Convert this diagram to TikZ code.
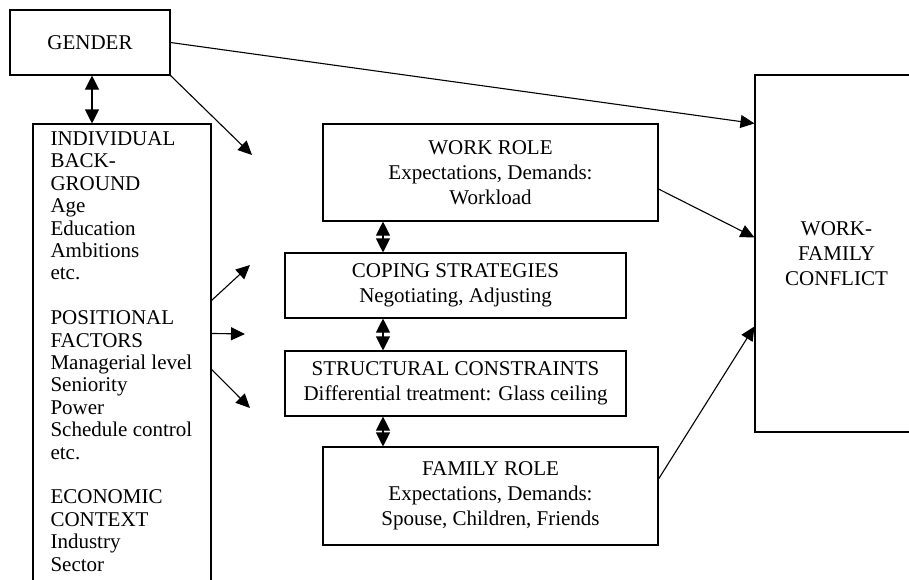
\documentclass[tikz,border=0pt]{standalone}
\usepackage{fontspec}
\setmainfont{Liberation Serif}
\usetikzlibrary{arrows.meta}
\begin{document}
\begin{tikzpicture}[x=1pt,y=-1pt,line width=1.1pt,
  box/.style={draw,rectangle,inner sep=0pt,align=center,font=\fontsize{21}{25}\selectfont},
  leftText/.style={inner sep=0pt,align=left,anchor=north west,font=\fontsize{21}{22.4}\selectfont},
  arr/.style={-{Triangle[length=14pt,width=13pt]}},
  darr/.style={{Triangle[length=14pt,width=14pt]}-{Triangle[length=14pt,width=14pt]}}]
\useasboundingbox (0,0) rectangle (909,579);
\clip (0,0) rectangle (909,579);
\node[box,minimum width=160pt,minimum height=65pt] (gender) at (90,42.5) {GENDER};
\node[draw,rectangle,inner sep=0pt,minimum width=178pt,minimum height=496pt] (lb) at (122,372) {};
\node[leftText] (lbtext) at (50,131) {INDIVIDUAL\\BACK-\\GROUND\\Age\\Education\\Ambitions\\etc.\\[22.4pt]POSITIONAL\\FACTORS\\Managerial level\\Seniority\\Power\\Schedule control\\etc.\\[22.4pt]ECONOMIC\\CONTEXT\\Industry\\Sector};
\node[box,minimum width=335pt,minimum height=97pt] (work) at (490.5,172.5) {WORK ROLE\\Expectations, Demands:\\Workload};
\node[box,minimum width=341pt,minimum height=65pt] (cope) at (455.5,285.5) {COPING STRATEGIES\\Negotiating, Adjusting};
\node[box,minimum width=341pt,minimum height=65pt] (struct) at (455.5,383.5) {STRUCTURAL CONSTRAINTS\\Differential treatment: Glass ceiling};
\node[box,minimum width=335pt,minimum height=98pt] (family) at (490.5,496) {FAMILY ROLE\\Expectations, Demands:\\Spouse, Children, Friends};
\node[box,minimum width=163pt,minimum height=357pt] (wfc) at (836.5,253.5) {WORK-\\FAMILY\\CONFLICT};
\coordinate (gx) at (92,0);
\coordinate (mx) at (383,0);
\coordinate (g2) at (252,155);
\coordinate (l1) at (250,265);
\coordinate (l2) at (245,334);
\coordinate (l3) at (250,408);
\draw[darr] (gx |- gender.south) -- (gx |- lb.north);
\draw[arr] (gender.east) -- ([yshift=-49pt]wfc.north west);
\draw[arr] (gender.south east) -- (g2);
\draw[arr] ([yshift=-177pt]lb.north east) -- (l1);
\draw[arr] ([yshift=-210pt]lb.north east) -- (l2);
\draw[arr] ([yshift=-246pt]lb.north east) -- (l3);
\draw[darr] (mx |- work.south) -- (mx |- cope.north);
\draw[darr] (mx |- cope.south) -- (mx |- struct.north);
\draw[darr] (mx |- struct.south) -- (mx |- family.north);
\draw[arr] ([yshift=-16.5pt]work.east) -- ([yshift=-163pt]wfc.north west);
\draw[arr] ([yshift=17pt]family.east) -- ([yshift=-252pt]wfc.north west);
\end{tikzpicture}
\end{document}
